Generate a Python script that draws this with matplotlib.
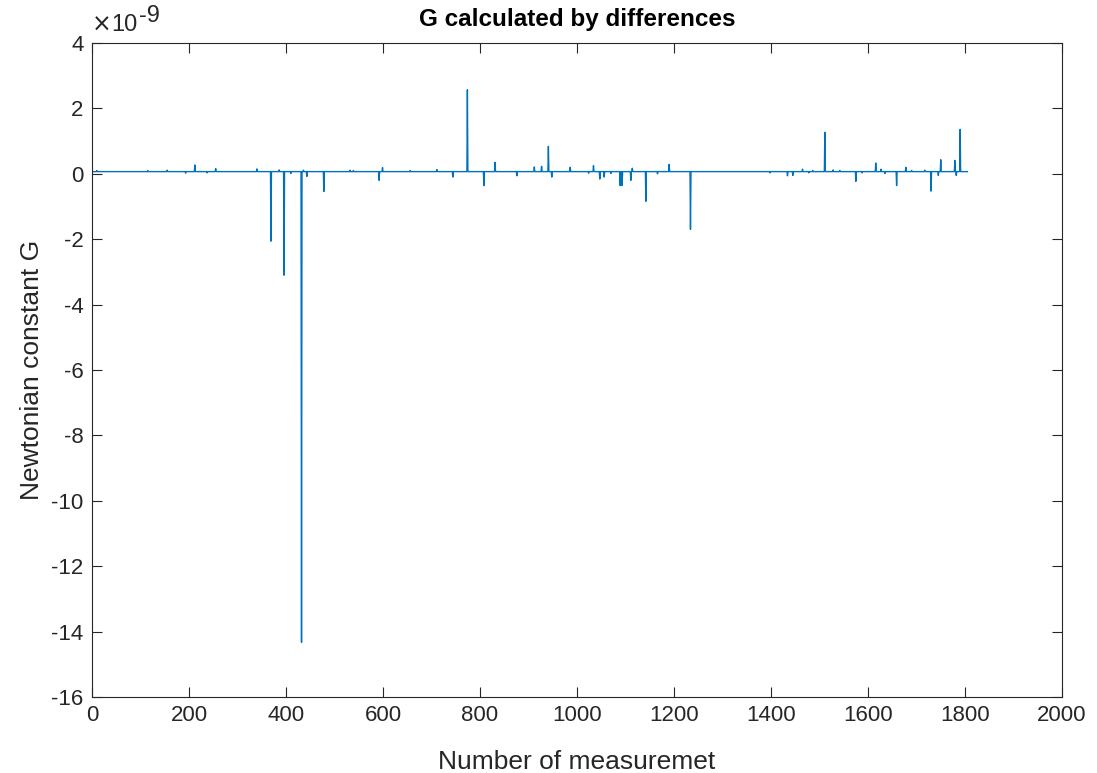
import numpy as np
import matplotlib
matplotlib.use("Agg")
import matplotlib.pyplot as plt
from matplotlib.ticker import FixedLocator, FuncFormatter

plt.rcParams['font.family'] = ['Liberation Sans', 'DejaVu Sans']
plt.rcParams['axes.unicode_minus'] = False

# Number of measurements and the steady value of G (in units of 1e-9)
n_measurements = 1805
g_steady = 0.0667

# Measurements that deviate from the steady value: index and G (units of 1e-9)
outlier_index = [10, 115, 155, 193, 212, 237, 255, 340, 369, 386, 396, 410,
                 432, 436, 443, 478, 532, 539, 592, 599, 656, 711, 744, 774,
                 808, 831, 876, 912, 927, 941, 948, 986, 1024, 1034, 1047,
                 1056, 1070, 1089, 1093, 1111, 1114, 1142, 1166, 1190, 1234,
                 1398, 1434, 1445, 1465, 1478, 1486, 1511, 1528, 1542, 1575,
                 1588, 1616, 1627, 1635, 1659, 1678, 1690, 1717, 1730, 1745,
                 1750, 1779, 1782, 1790]
outlier_value = [0.10, 0.10, 0.11, 0.02, 0.27, 0.03, 0.16, 0.15, -2.06, 0.12,
                 -3.10, 0.01, -14.33, 0.11, -0.08, -0.54, 0.11, 0.10, -0.20,
                 0.19, 0.10, 0.13, -0.10, 2.57, -0.36, 0.35, -0.06, 0.21, 0.23,
                 0.84, -0.10, 0.20, 0.02, 0.25, -0.16, -0.10, 0.01, -0.36,
                 -0.36, -0.20, 0.17, -0.84, 0.00, 0.29, -1.70, 0.03, -0.06,
                 -0.05, 0.14, 0.03, 0.10, 1.27, 0.12, 0.10, -0.23, 0.03, 0.33,
                 0.14, 0.01, -0.36, 0.20, 0.10, 0.11, -0.53, -0.05, 0.43,
                 0.41, -0.05, 1.36]

x_ticks = list(range(0, 2001, 200))
y_ticks = list(range(-16, 5, 2))

measurement = np.arange(1, n_measurements + 1)
g_values = np.full(n_measurements, g_steady)
g_values[np.array(outlier_index) - 1] = outlier_value

fig = plt.figure(figsize=(10.97, 7.73), dpi=100)
ax = fig.add_axes([92 / 1097, 1 - 697 / 773, (1062 - 92) / 1097, (697 - 43) / 773])

ax.plot(measurement, g_values, color='#0072BD', lw=1.0)

ax.set_xlim(0, 2000)
ax.set_ylim(-16, 4)
ax.xaxis.set_major_locator(FixedLocator(x_ticks))
ax.yaxis.set_major_locator(FixedLocator(y_ticks))
ax.xaxis.set_major_formatter(FuncFormatter(lambda v, p: f"{v:g}"))
ax.yaxis.set_major_formatter(FuncFormatter(lambda v, p: f"{v:g}"))

axis_color = '#262626'
for s in ax.spines.values():
    s.set_color(axis_color)
    s.set_linewidth(0.8)
ax.tick_params(direction='in', length=7, width=0.8, color=axis_color,
               labelcolor=axis_color, labelsize=16, top=True, right=True,
               pad=6)

ax.set_title('G calculated by differences', fontsize=17.5, fontweight='bold',
             color='black', pad=12)
ax.set_xlabel('Number of measuremet', fontsize=19, color=axis_color, labelpad=17)
ax.set_ylabel('Newtonian constant G', fontsize=19, color=axis_color, labelpad=5)

# Exponent of the y axis, written MATLAB-style above the top-left corner
ax.annotate('×', xy=(0.0, 1.01), xycoords='axes fraction',
            xytext=(0, 0), textcoords='offset points', family='DejaVu Sans',
            fontsize=17, color=axis_color, ha='left', va='bottom')
ax.annotate('10', xy=(0.0, 1.01), xycoords='axes fraction',
            xytext=(14, 0), textcoords='offset points',
            fontsize=17, color=axis_color, ha='left', va='bottom')
ax.annotate('-9', xy=(0.0, 1.01), xycoords='axes fraction',
            xytext=(34, 7), textcoords='offset points',
            fontsize=17, color=axis_color, ha='left', va='bottom')

fig.savefig('out.png', dpi=100)
